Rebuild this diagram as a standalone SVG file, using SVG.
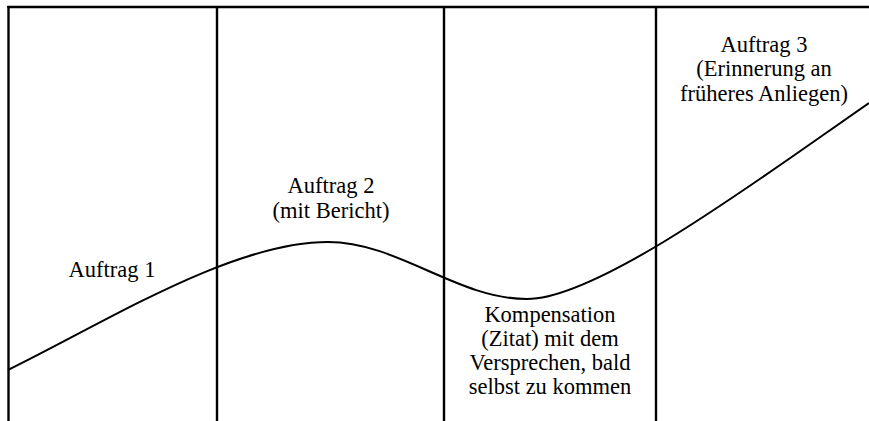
<svg xmlns="http://www.w3.org/2000/svg" width="869" height="421" viewBox="0 0 869 421">
<style>
.ln{stroke:#000;stroke-width:2.4;fill:none}
.cv{stroke:#000;stroke-width:2;fill:none}
.t{font-family:'Liberation Serif','Times New Roman','DejaVu Serif',serif;font-size:22.5px;fill:#000;text-anchor:middle}
</style>
<rect x="0" y="0" width="869" height="421" fill="#fff"/>
<g id="frame">
<line class="ln" x1="7.3" y1="7" x2="869" y2="7"/>
<line class="ln" x1="8.5" y1="6" x2="8.5" y2="421"/>
<line class="ln" x1="217" y1="6" x2="217" y2="421"/>
<line class="ln" x1="444" y1="6" x2="444" y2="421"/>
<line class="ln" x1="656" y1="6" x2="656" y2="421"/>
</g>
<g id="connectors">
<path class="cv" d="M8 370 C108 321 232 242 328 242 C398 242 457 299 527 299 C600 299 769 172 869 103"/>
</g>
<g id="node1"><text class="t" x="112" y="277">Auftrag 1</text></g>
<g id="node2"><text class="t" x="331" y="193">Auftrag 2</text><text class="t" x="331" y="217.5">(mit Bericht)</text></g>
<g id="node3"><text class="t" x="550" y="321.7">Kompensation</text><text class="t" x="550" y="346">(Zitat) mit dem</text><text class="t" x="550" y="370.2">Versprechen, bald</text><text class="t" x="550" y="394.4">selbst zu kommen</text></g>
<g id="node4"><text class="t" x="764" y="51.7">Auftrag 3</text><text class="t" x="764" y="76.4">(Erinnerung an</text><text class="t" x="764" y="101">früheres Anliegen)</text></g>
</svg>
